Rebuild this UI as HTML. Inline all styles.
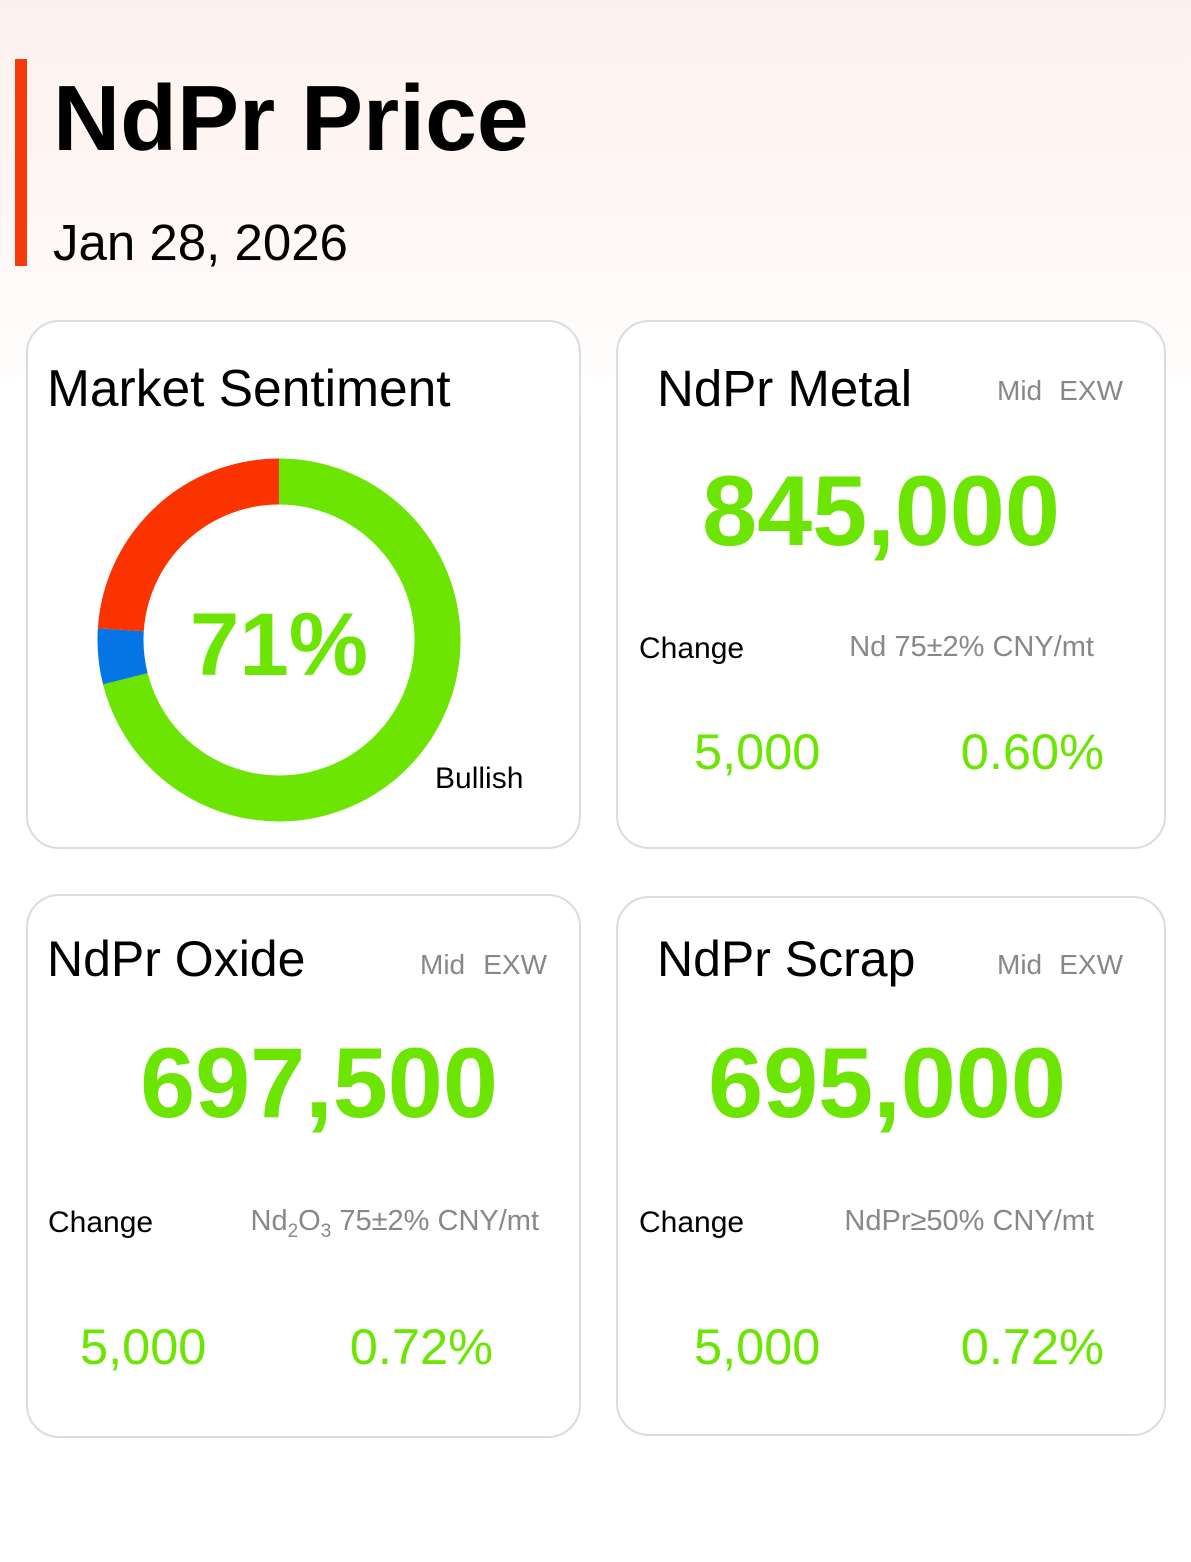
<!DOCTYPE html>
<html><head><meta charset="utf-8"><style>
html,body{margin:0;padding:0;background:#fff}
svg{display:block}
text{font-family:"Liberation Sans",Arial,sans-serif}
</style></head><body>
<svg width="1191" height="1562" viewBox="0 0 1191 1562" xmlns="http://www.w3.org/2000/svg">
<defs>
<linearGradient id="bg" x1="0" y1="0" x2="0" y2="1">
<stop offset="0" stop-color="#fdf1ee"/>
<stop offset="0.5" stop-color="#fef7f5"/>
<stop offset="1" stop-color="#ffffff"/>
</linearGradient>
</defs>
<rect width="1191" height="1562" fill="#fff"/>
<rect width="1191" height="420" fill="url(#bg)"/>
<rect x="15" y="59" width="12" height="207" fill="#f53b0e"/>
<text x="53" y="150" font-size="93" font-weight="bold" fill="#000">NdPr Price</text>
<text x="53" y="260" font-size="51" fill="#000">Jan 28, 2026</text>

<g fill="#fff" stroke="#dcdcdc" stroke-width="2">
<rect x="27" y="321" width="553" height="527" rx="32"/>
<rect x="617" y="321" width="548" height="527" rx="32"/>
<rect x="27" y="895" width="553" height="542" rx="32"/>
<rect x="617" y="897" width="548" height="538" rx="32"/>
</g>

<!-- Card 1 -->
<text x="47" y="406" font-size="51.5" fill="#000">Market Sentiment</text>
<g transform="rotate(-90 279 640)" fill="none" stroke-width="46">
<circle cx="279" cy="640" r="158.5" stroke="#6ce503" stroke-dasharray="707.4 1000"/>
<circle cx="279" cy="640" r="158.5" stroke="#0575e6" stroke-dasharray="0 707.4 49.5 1000"/>
<circle cx="279" cy="640" r="158.5" stroke="#fa3300" stroke-dasharray="0 756.9 240 1000"/>
</g>
<text x="279" y="675" font-size="89" font-weight="bold" fill="#6ce503" text-anchor="middle">71%</text>
<text x="435" y="788" font-size="30" fill="#000">Bullish</text>

<!-- Card 2 -->
<text x="657" y="406" font-size="51" fill="#000">NdPr Metal</text>
<text x="997" y="400" font-size="28" fill="#888">Mid</text>
<text x="1123" y="400" font-size="28" fill="#888" text-anchor="end">EXW</text>
<text x="881" y="545" font-size="99" font-weight="bold" fill="#6ce503" text-anchor="middle">845,000</text>
<text x="639" y="658" font-size="30" fill="#000">Change</text>
<text x="1094" y="656" font-size="29" fill="#888" text-anchor="end">Nd 75±2% CNY/mt</text>
<text x="694" y="769" font-size="50.5" fill="#6ce503">5,000</text>
<text x="1104" y="769" font-size="50.5" fill="#6ce503" text-anchor="end">0.60%</text>

<!-- Card 3 -->
<text x="47" y="976" font-size="50" fill="#000">NdPr Oxide</text>
<text x="420" y="974" font-size="28" fill="#888">Mid</text>
<text x="547" y="974" font-size="28" fill="#888" text-anchor="end">EXW</text>
<text x="319" y="1117" font-size="99" font-weight="bold" fill="#6ce503" text-anchor="middle">697,500</text>
<text x="48" y="1232" font-size="30" fill="#000">Change</text>
<text x="539" y="1230" font-size="29" fill="#888" text-anchor="end">Nd<tspan font-size="19" dy="7">2</tspan><tspan dy="-7">O</tspan><tspan font-size="19" dy="7">3</tspan><tspan dy="-7"> 75±2% CNY/mt</tspan></text>
<text x="80" y="1364" font-size="50.5" fill="#6ce503">5,000</text>
<text x="493" y="1364" font-size="50.5" fill="#6ce503" text-anchor="end">0.72%</text>

<!-- Card 4 -->
<text x="657" y="976" font-size="50" fill="#000">NdPr Scrap</text>
<text x="997" y="974" font-size="28" fill="#888">Mid</text>
<text x="1123" y="974" font-size="28" fill="#888" text-anchor="end">EXW</text>
<text x="887" y="1117" font-size="99" font-weight="bold" fill="#6ce503" text-anchor="middle">695,000</text>
<text x="639" y="1232" font-size="30" fill="#000">Change</text>
<text x="1094" y="1230" font-size="29" fill="#888" text-anchor="end">NdPr≥50% CNY/mt</text>
<text x="694" y="1364" font-size="50.5" fill="#6ce503">5,000</text>
<text x="1104" y="1364" font-size="50.5" fill="#6ce503" text-anchor="end">0.72%</text>
</svg>
</body></html>
